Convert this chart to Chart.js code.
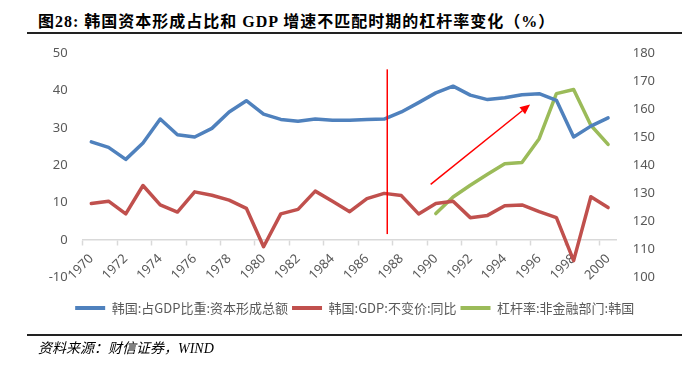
<!DOCTYPE html>
<html>
<head>
<meta charset="utf-8">
<script src="https://cdn.jsdelivr.net/npm/chart.js@4.4.0/dist/chart.umd.min.js"></script>
<style>
    html, body { margin: 0; padding: 0; background: #fff; }
    #wrap { position: relative; width: 689px; height: 366px; overflow: hidden; }
    #myChart { position: absolute; left: 0; top: 0; }
    .title {
        position: absolute; left: 38px; top: 8px; line-height: 22px;
        font: bold 16px "Liberation Serif", "Noto Sans CJK SC";
        letter-spacing: 1px; color: #000; white-space: nowrap;
    }
    .rule { position: absolute; left: 27px; width: 655px; height: 2px; background: #222; }
    .source {
        position: absolute; left: 38px; top: 337px; line-height: 22px;
        font: italic 14px "Liberation Serif", "Noto Sans CJK SC";
        color: #000; white-space: nowrap;
    }
</style>
</head>
<body>
<div id="wrap">
    <div class="title">图28: 韩国资本形成占比和 GDP 增速不匹配时期的杠杆率变化（%）</div>
    <div class="rule" style="top:32px"></div>
    <canvas id="myChart" width="689" height="366"></canvas>
    <div class="rule" style="top:334px"></div>
    <div class="source">资料来源：财信证券，WIND</div>
</div>
<script>
'use strict';
// data
const years = ['1970', '1971', '1972', '1973', '1974', '1975', '1976', '1977', '1978', '1979',
    '1980', '1981', '1982', '1983', '1984', '1985', '1986', '1987', '1988', '1989',
    '1990', '1991', '1992', '1993', '1994', '1995', '1996', '1997', '1998', '1999', '2000'];
const capShare = [26.3, 24.8, 21.6, 26.0, 32.4, 28.2, 27.6, 29.9, 34.3, 37.3,
    33.7, 32.3, 31.8, 32.4, 32.1, 32.1, 32.3, 32.4, 34.3, 36.8,
    39.4, 41.2, 38.8, 37.6, 38.1, 38.9, 39.2, 37.4, 27.6, 30.5, 32.7];
const gdpGrowth = [9.8, 10.4, 7.0, 14.6, 9.4, 7.5, 12.9, 12.0, 10.7, 8.5,
    -1.8, 7.0, 8.2, 13.1, 10.4, 7.6, 11.1, 12.5, 11.9, 7.0,
    9.8, 10.4, 6.0, 6.6, 9.2, 9.4, 7.6, 6.0, -5.5, 11.6, 8.7];
const leverage = [null, null, null, null, null, null, null, null, null, null,
    null, null, null, null, null, null, null, null, null, null,
    122.8, 128.7, 132.9, 136.8, 140.6, 141.0, 149.5, 165.6, 167.1, 154.3, 147.5];
const leftTicks = [-10, 0, 10, 20, 30, 40, 50];
const rightTicks = [100, 110, 120, 130, 140, 150, 160, 170, 180];
const seriesNames = ['韩国:占GDP比重:资本形成总额', '韩国:GDP:不变价:同比', '杠杆率:非金融部门:韩国'];

// red marks drawn on top (category index / left-axis value)
const cutLine = { at: 17.18, from: 45.7, to: 1.6 };
const trendArrow = { x0: 19.7, y0: 14.9, x1: 25.47, y1: 36.3 };

const grey = '#595959';
const tickFont = { family: 'Noto Sans', size: 13 };

const markers = {
    id: 'markers',
    afterDatasetsDraw(chart) {
        const ctx = chart.ctx;
        const x = chart.scales.x, y = chart.scales.y;
        ctx.save();
        ctx.strokeStyle = '#ff0000';
        ctx.fillStyle = '#ff0000';
        ctx.lineWidth = 1.5;
        const vx = x.getPixelForValue(cutLine.at);
        ctx.beginPath();
        ctx.moveTo(vx, y.getPixelForValue(cutLine.from));
        ctx.lineTo(vx, y.getPixelForValue(cutLine.to));
        ctx.stroke();

        const ax = x.getPixelForValue(trendArrow.x0), ay = y.getPixelForValue(trendArrow.y0);
        const bx = x.getPixelForValue(trendArrow.x1), by = y.getPixelForValue(trendArrow.y1);
        const ang = Math.atan2(by - ay, bx - ax);
        const len = 10, half = 4.5;
        const baseX = bx - len * Math.cos(ang), baseY = by - len * Math.sin(ang);
        ctx.beginPath();
        ctx.moveTo(ax, ay);
        ctx.lineTo(baseX, baseY);
        ctx.stroke();
        ctx.beginPath();
        ctx.moveTo(bx, by);
        ctx.lineTo(baseX + half * Math.sin(ang), baseY - half * Math.cos(ang));
        ctx.lineTo(baseX - half * Math.sin(ang), baseY + half * Math.cos(ang));
        ctx.closePath();
        ctx.fill();
        ctx.restore();
    }
};

// fixed legend height so the plot area lands where the picture has it
const legendSpace = {
    id: 'legendSpace',
    beforeLayout(chart) {
        const lg = chart.legend;
        if (!lg || lg._fixed) return;
        const fit = lg.fit;
        lg.fit = function () {
            fit.call(this);
            this.height = 40;
        };
        lg._fixed = true;
    }
};

const lineStyle = {
    fill: false,
    tension: 0,
    pointRadius: 0,
    borderWidth: 3.5,
    borderJoinStyle: 'round',
    borderCapStyle: 'round'
};

const data = {
    labels: years,
    datasets: [
        Object.assign({ label: seriesNames[0], data: capShare, yAxisID: 'y',
            borderColor: '#4f81bd', backgroundColor: '#4f81bd' }, lineStyle),
        Object.assign({ label: seriesNames[1], data: gdpGrowth, yAxisID: 'y',
            borderColor: '#c0504d', backgroundColor: '#c0504d' }, lineStyle),
        Object.assign({ label: seriesNames[2], data: leverage, yAxisID: 'y1',
            borderColor: '#9bbb59', backgroundColor: '#9bbb59' }, lineStyle)
    ]
};

const config = {
    type: 'line',
    data: data,
    options: {
        responsive: false,
        animation: false,
        layout: { padding: { left: 42.7, right: 22.3, top: 53.3, bottom: 48.6 } },
        scales: {
            x: {
                position: { y: 0 },
                offset: true,
                grid: {
                    offset: true,
                    drawOnChartArea: false,
                    drawTicks: true,
                    tickLength: 5,
                    tickWidth: 1.5,
                    tickColor: (c) => (c.index % 2 === 0 ? '#d9d9d9' : 'rgba(0,0,0,0)')
                },
                border: { color: '#d9d9d9', width: 1.5 },
                ticks: {
                    autoSkip: false,
                    minRotation: 45,
                    maxRotation: 45,
                    padding: 6,
                    color: grey,
                    font: tickFont,
                    callback: (v, i) => (i % 2 === 0 ? years[i] : '')
                }
            },
            y: {
                position: 'left',
                min: leftTicks[0],
                max: leftTicks[leftTicks.length - 1],
                afterBuildTicks: (s) => { s.ticks = leftTicks.map((v) => ({ value: v })); },
                afterFit: (s) => { s.width = 40; },
                grid: { display: false, drawTicks: false },
                border: { display: false },
                ticks: { padding: 15, color: grey, font: tickFont }
            },
            y1: {
                position: 'right',
                min: rightTicks[0],
                max: rightTicks[rightTicks.length - 1],
                afterBuildTicks: (s) => { s.ticks = rightTicks.map((v) => ({ value: v })); },
                afterFit: (s) => { s.width = 50; },
                grid: { display: false, drawTicks: false },
                border: { display: false },
                ticks: { padding: 16, color: grey, font: tickFont }
            }
        },
        plugins: {
            tooltip: { enabled: false },
            legend: {
                position: 'bottom',
                title: { display: true, text: '', font: { size: 10 }, padding: { top: 8, bottom: 0 } },
                labels: {
                    boxWidth: 30,
                    boxHeight: 4,
                    padding: 4,
                    color: grey,
                    font: { family: '"Noto Sans CJK SC"', size: 13 },
                    generateLabels(chart) {
                        return Chart.defaults.plugins.legend.labels.generateLabels(chart).map((item) =>
                            Object.assign(item, { fillStyle: item.strokeStyle, lineWidth: 0 }));
                    }
                }
            }
        }
    },
    plugins: [legendSpace, markers]
};

const myChart = new Chart(document.getElementById('myChart'), config);
</script>
</body>
</html>
